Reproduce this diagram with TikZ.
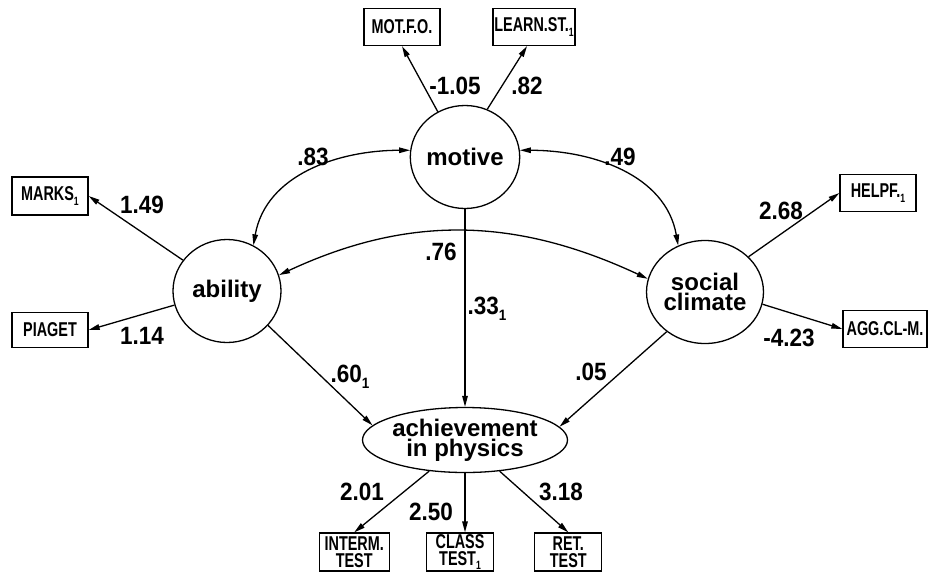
\documentclass[tikz,border=0pt]{standalone}
\usepackage{fontspec}
\setmainfont{Liberation Sans}
\newfontfamily\labfont[FakeStretch=0.9]{Liberation Sans}
\newfontfamily\boxfont[FakeStretch=0.72]{Liberation Sans}
\usetikzlibrary{positioning, arrows.meta, shapes.geometric}
\newcommand{\lowidx}[1]{\raisebox{-.45ex}{\scalebox{.6}{#1}}}

\begin{document}
\begin{tikzpicture}[
  x=1pt, y=1pt, line width=1.3pt,
  >={Triangle[length=11pt,width=5.5pt]},
  latent/.style={draw, ellipse, minimum width=108pt, minimum height=103pt,
    inner sep=0pt, align=center, font=\bfseries\fontsize{24}{20}\selectfont},
  outcome/.style={latent, minimum width=205pt, minimum height=65pt, inner xsep=-2pt},
  ind/.style={draw, rectangle, minimum width=76pt, minimum height=37pt,
    inner sep=0pt, align=center, font=\boxfont\bfseries\fontsize{20}{17}\selectfont},
  coef/.style={inner sep=0pt, font=\labfont\bfseries\fontsize{25}{25}\selectfont},
]
  \useasboundingbox (0,0) rectangle (928,-571);

  % latent variables
  \node[latent]  (motive)  at (465,-157) {motive};
  \node[latent]  (ability) at (227,-291) {ability};
  \node[latent]  (social)  at (705,-292) {social\\climate};
  \node[outcome] (achieve) at (465,-440) {achievement\\in physics};

  % indicators
  \node[ind] (motfo) at (402,-27) {MOT.F.O.};
  \node[ind, minimum width=82pt] (learn) at (534,-27) {LEARN.ST.\lowidx{1}};
  \node[ind, minimum height=38pt] (marks) at (50,-196) {MARKS\lowidx{1}};
  \node[ind, minimum height=35pt] (piaget) at (50,-330) {PIAGET};
  \node[ind] (helpf) at (878,-193) {HELPF.\lowidx{1}};
  \node[ind, minimum width=84pt] (aggcl) at (885,-329) {AGG.CL-M.};
  \node[ind, minimum width=67pt, minimum height=38pt] (class) at (460,-552) {CLASS\\TEST\lowidx{1}};
  \node[ind, minimum width=70pt, minimum height=38pt, left=36pt of class] (interm) {INTERM.\\TEST};
  \node[ind, minimum width=67pt, minimum height=38pt, right=40pt of class] (ret) {RET.\\TEST};

  % loadings
  \draw[->] (motive.121) -- (motfo.south);
  \draw[->] (motive.65) -- (learn.250);
  \draw[->] (ability.145) -- (marks.east);
  \draw[->] (ability.195) -- (piaget.east);
  \draw[->] (social.39) -- (helpf.west);
  \draw[->] (social.-12) -- (aggcl.west);
  \draw[->] (achieve.221) -- (interm.north);
  \draw[->] (achieve.south) -- (achieve.south |- class.north);
  \draw[->] (achieve.318) -- (ret.north);

  % structural paths and correlations
  \draw[->] (motive.south) -- (achieve.north);
  \draw[->] (ability.320) -- (achieve.171);
  \draw[->] (social.226) -- (achieve.8);
  \draw[<->] (motive.173) to[out=180, in=80] (ability.60);
  \draw[<->] (motive.7) to[out=0, in=100] (social.120);
  \draw[<->] (ability.17) to[out=25, in=155] (social.167);

  % coefficients
  \node[coef] (cmot)  at (455,-86)  {-1.05};
  \node[coef] (clrn)  at (527,-86)  {.82};
  \node[coef] (cma)   at (313,-157) {.83};
  \node[coef] (cms)   at (620,-157) {.49};
  \node[coef] (cmrk)  at (142,-205) {1.49};
  \node[coef] (cpia)  at (142,-336) {1.14};
  \node[coef] (chlp)  at (781,-211) {2.68};
  \node[coef] (cagg)  at (789,-338) {-4.23};
  \node[coef] (cas)   at (441,-252) {.76};
  \node[coef, anchor=west] (cmach) at (467,-309) {.33\lowidx{1}};
  \node[coef] (cabl)  at (350,-377) {.60\lowidx{1}};
  \node[coef] (csoc)  at (591,-372) {.05};
  \node[coef] (cint)  at (362,-492) {2.01};
  \node[coef] (ccls)  at (431,-512) {2.50};
  \node[coef] (cret)  at (561,-492) {3.18};
\end{tikzpicture}
\end{document}
